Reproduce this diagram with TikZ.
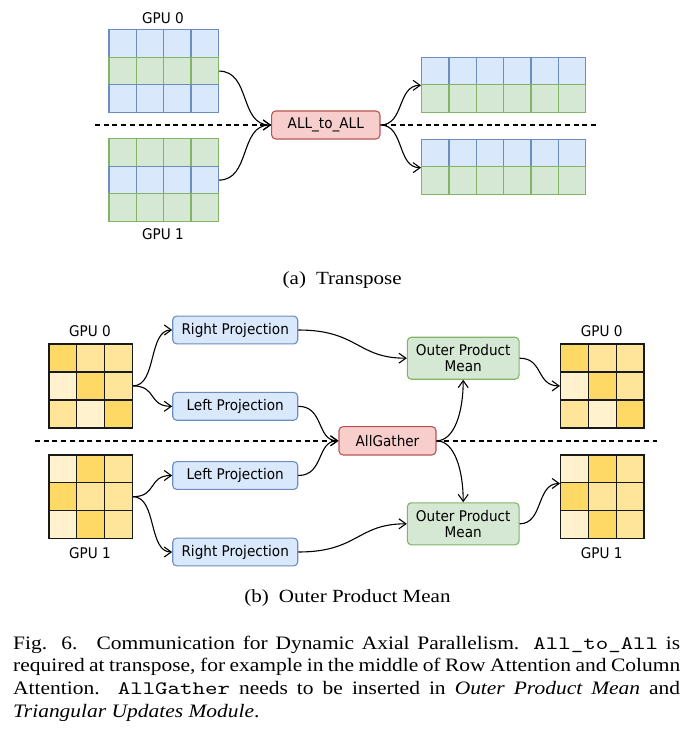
\documentclass[tikz,border=0pt]{standalone}
\usepackage{fontspec}
\setmainfont{Liberation Serif}[FakeStretch=1.13]
\setmonofont{lmmono10-regular}[Extension=.otf, FakeStretch=1.25]
\newfontfamily\dvs{DejaVu Sans}[FakeStretch=0.925]
\usetikzlibrary{arrows.meta}
\definecolor{bfill}{HTML}{DAE8FC}
\definecolor{bline}{HTML}{6C8EBF}
\definecolor{gfill}{HTML}{D5E8D4}
\definecolor{gline}{HTML}{82B366}
\definecolor{rfill}{HTML}{F8CECC}
\definecolor{rline}{HTML}{B85450}
\definecolor{yD}{HTML}{FFD966}
\definecolor{yM}{HTML}{FFE599}
\definecolor{yL}{HTML}{FFF2CC}
\begin{document}
\begin{tikzpicture}[x=1pt,y=-1pt,
  sans/.style={font=\dvs\fontsize{14.7}{15.5}\selectfont},
  lbl/.style={sans, inner sep=0, anchor=base},
  cellb/.style={draw=bline, fill=bfill, line width=1.2pt, inner sep=0, minimum width=27.35pt, minimum height=27.45pt, anchor=north west},
  cellg/.style={cellb, draw=gline, fill=gfill},
  ycell/.style={draw=black!90, line width=1.3pt, inner sep=0, minimum width=27.8pt, minimum height=27.9pt, anchor=north west},
  box/.style={sans, draw, rounded corners=4pt, line width=1.1pt, inner sep=0, align=center},
  bbox/.style={box, draw=bline, fill=bfill, minimum width=125pt, minimum height=27.8pt},
  gbox/.style={box, draw=gline, fill=gfill, minimum width=111.7pt, minimum height=42pt},
  rbox/.style={box, draw=rline, fill=rfill},
  conn/.style={line width=1.1pt, -{Straight Barb[length=7pt,width=10pt,line width=1.1pt]}},
  sepline/.style={line width=1.1pt, dash pattern=on 5pt off 3.7pt},
  subcap/.style={inner sep=0, anchor=base, font=\fontsize{18.6}{22.7}\selectfont},
  capline/.style={inner sep=0, anchor=base west, font=\fontsize{19}{22.7}\selectfont}
]
\useasboundingbox (0,0) rectangle (691,735);

% separator lines
\coordinate (s1a) at (95,125);
\coordinate (s1b) at (597,125);
\coordinate (s2a) at (35,441);
\coordinate (s2b) at (657,441);
\draw[sepline] (s1a) -- (s1b);
\draw[sepline] (s2a) -- (s2b);

% ---------- (a) Transpose ----------
\foreach \col [count=\r from 0] in {b,g,b}
  \foreach \c in {0,...,3}
    \node[cell\col] (ta-\r-\c) at (108.3+27.35*\c, 29.3+27.47*\r) {};
\foreach \col [count=\r from 0] in {g,b,g}
  \foreach \c in {0,...,3}
    \node[cell\col] (tb-\r-\c) at (108.3+27.35*\c, 138.3+27.47*\r) {};
\foreach \col [count=\r from 0] in {b,g}
  \foreach \c in {0,...,5}
    \node[cell\col] (tc-\r-\c) at (421+27.33*\c, 56.7+27.45*\r) {};
\foreach \col [count=\r from 0] in {b,g}
  \foreach \c in {0,...,5}
    \node[cell\col] (td-\r-\c) at (421+27.33*\c, 139+27.3*\r) {};

\node[lbl] (la0) at (163,23.3) {GPU 0};
\node[lbl] (la1) at (163,240) {GPU 1};

\node[rbox, minimum width=108.3pt, minimum height=28pt] (a2a) at (325.8,125) {ALL\_to\_ALL};

\draw[conn] (ta-1-3.east) .. controls +(32,0) and +(-32,0) .. (a2a.west);
\draw[conn] (tb-1-3.east) .. controls +(32,0) and +(-32,0) .. (a2a.west);
\draw[conn] (a2a.east) .. controls +(24,0) and +(-24,0) .. (tc-0-0.south west);
\draw[conn] (a2a.east) .. controls +(24,0) and +(-24,0) .. (td-0-0.south west);

\node[subcap] (capa) at (342.2,284) {(a)\hspace{10pt}Transpose};

% ---------- (b) Outer Product Mean ----------
\foreach \row [count=\r from 0] in {{yD,yM,yM},{yL,yD,yM},{yM,yL,yD}}
  \foreach \f [count=\c from 0] in \row {
    \node[ycell, fill=\f] (ya-\r-\c) at (48.3+27.8*\c, 343.3+28*\r) {};
    \node[ycell, fill=\f] (yc-\r-\c) at (560+27.77*\c, 343.3+28*\r) {};
  }
\foreach \row [count=\r from 0] in {{yL,yD,yM},{yD,yM,yM},{yL,yD,yM}}
  \foreach \f [count=\c from 0] in \row {
    \node[ycell, fill=\f] (yb-\r-\c) at (48.3+27.8*\c, 454.3+27.8*\r) {};
    \node[ycell, fill=\f] (yd-\r-\c) at (560+27.77*\c, 454.3+27.8*\r) {};
  }

\node[lbl] (lb0) at (90,336.7) {GPU 0};
\node[lbl] (lb1) at (90,558.3) {GPU 1};
\node[lbl] (lc0) at (601.7,336.7) {GPU 0};
\node[lbl] (lc1) at (601.7,558.3) {GPU 1};

\node[bbox] (rp1) at (235.2,330) {Right Projection};
\node[bbox] (lp1) at (235.2,406.3) {Left Projection};
\node[bbox] (lp2) at (235.2,475.5) {Left Projection};
\node[bbox] (rp2) at (235.2,552) {Right Projection};
\node[rbox, minimum width=97pt, minimum height=28.3pt] (ag) at (387.5,440.8) {AllGather};
\node[gbox] (opm1) at (463.2,358.2) {Outer Product\\Mean};
\node[gbox] (opm2) at (463.2,523.8) {Outer Product\\Mean};

\draw[conn] (ya-1-2.east) .. controls +(24,0) and +(-24,0) .. (rp1.west);
\draw[conn] (ya-1-2.east) .. controls +(24,0) and +(-24,0) .. (lp1.west);
\draw[conn] (yb-1-2.east) .. controls +(24,0) and +(-24,0) .. (lp2.west);
\draw[conn] (yb-1-2.east) .. controls +(24,0) and +(-24,0) .. (rp2.west);
\draw[conn] (rp1.east) .. controls +(60,0) and +(-50,0) .. (opm1.west);
\draw[conn] (rp2.east) .. controls +(60,0) and +(-50,0) .. (opm2.west);
\draw[conn] (lp1.east) .. controls +(26,0) and +(-22,0) .. (ag.west);
\draw[conn] (lp2.east) .. controls +(26,0) and +(-22,0) .. (ag.west);
\draw[conn] (ag.east) .. controls +(18,0) and +(0,32) .. (opm1.south);
\draw[conn] (ag.east) .. controls +(18,0) and +(0,-32) .. (opm2.north);
\draw[conn] (opm1.east) .. controls +(24,0) and +(-24,0) .. (yc-1-0.west);
\draw[conn] (opm2.east) .. controls +(24,0) and +(-24,0) .. (yd-0-0.south west);

\node[subcap] (capb) at (347.5,602) {(b)\hspace{10pt}Outer Product Mean};

% ---------- caption ----------
\node[capline] (c1) at (13,649) {\makebox[667pt][s]{Fig. 6.\hspace{5pt} Communication for Dynamic Axial Parallelism. \texttt{All\_to\_All} is}};
\node[capline] (c2) at (13,671.7) {\makebox[667pt][s]{required at transpose, for example in the middle of Row Attention and Column}};
\node[capline] (c3) at (13,694.4) {\makebox[667pt][s]{Attention. \texttt{AllGather} needs to be inserted in \textit{Outer Product Mean} and}};
\node[capline] (c4) at (13,717) {\textit{Triangular Updates Module}.};
\end{tikzpicture}
\end{document}
